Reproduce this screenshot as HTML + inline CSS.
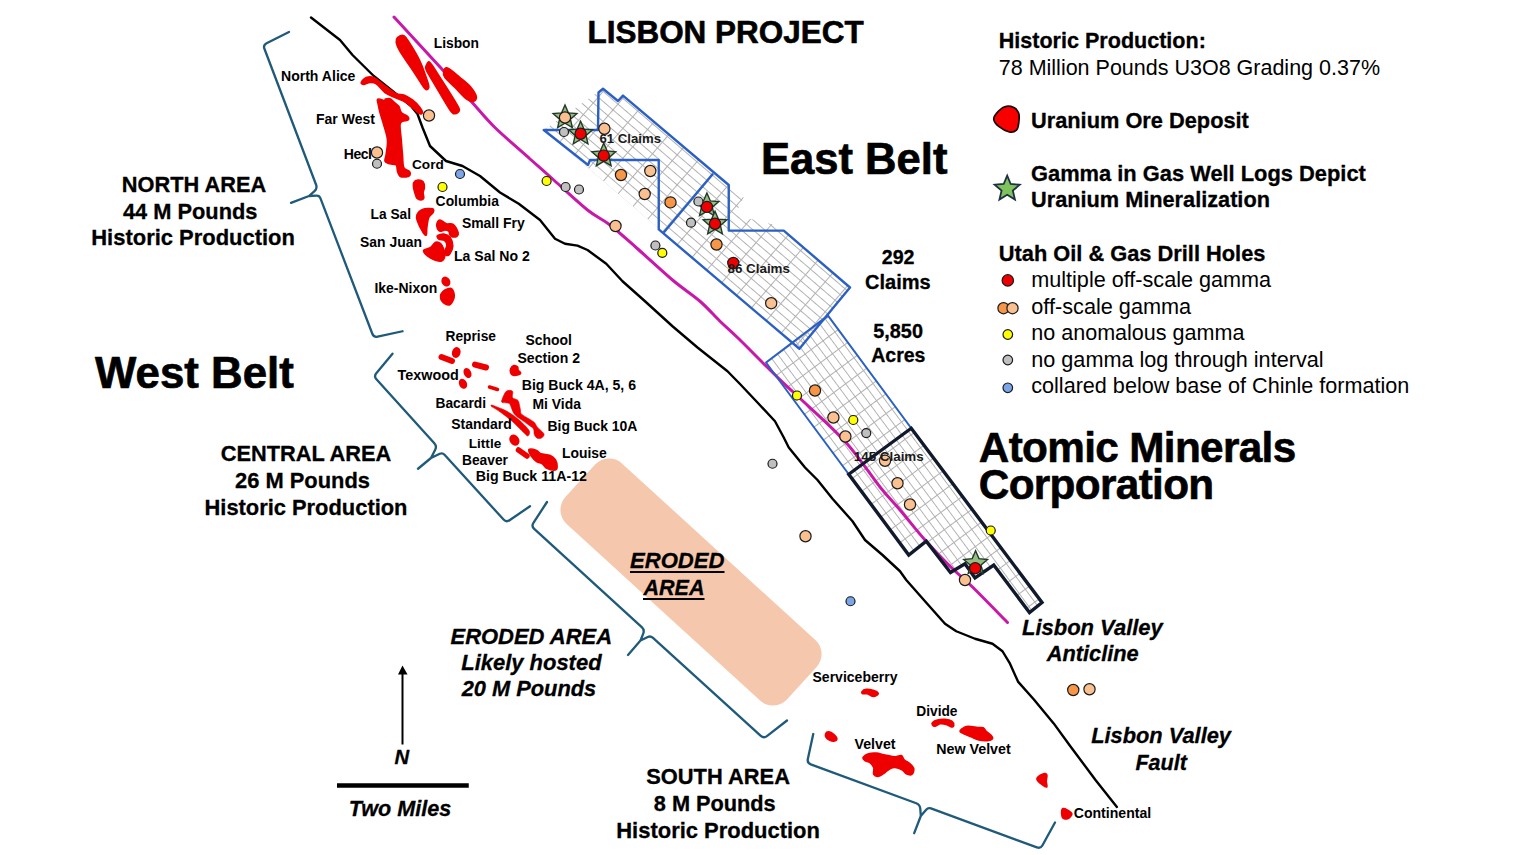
<!DOCTYPE html>
<html><head><meta charset="utf-8"><title>Lisbon Project</title>
<style>
html,body{margin:0;padding:0;background:#fff;width:1520px;height:855px;overflow:hidden}
svg{display:block}
text{font-family:"Liberation Sans",sans-serif}
</style></head><body>
<svg width="1520" height="855" viewBox="0 0 1520 855">
<rect width="1520" height="855" fill="#fff"/>
<defs>
<pattern id="g1" patternUnits="userSpaceOnUse" width="19.5" height="7.6" patternTransform="translate(543.75,130) rotate(40.6)">
<path d="M0,0.5H19.5M0.5,0V7.6" stroke="#b0b0b0" stroke-width="1" fill="none"/></pattern>
<pattern id="g2" patternUnits="userSpaceOnUse" width="16" height="7.4" patternTransform="translate(766,362.5) rotate(53.5)">
<path d="M0,0.5H16M0.5,0V7.4" stroke="#b0b0b0" stroke-width="1" fill="none"/></pattern>
</defs>
<rect x="541" y="541" width="300" height="82" rx="19" ry="19" fill="#f5c8ad" transform="rotate(42.4 691 582)"/>
<polygon points="543.75,130.00 598.00,92.00 603.00,88.75 618.00,101.00 623.00,95.60 728.75,185.00 743.75,197.50 736.00,212.50 750.00,218.75 775.00,225.00 783.75,230.60 850.00,287.50 799.40,348.75" fill="url(#g1)"/>
<polygon points="766.00,362.50 828.00,315.60 911.25,428.25 1042.00,602.50 1029.50,612.50 993.75,565.00 975.00,578.00 965.00,563.75 950.50,572.50 926.25,541.25 908.75,555.00 848.75,474.25" fill="url(#g2)"/>
<polyline points="311.00,17.50 340.00,40.00 352.50,55.00 373.75,76.00 397.50,95.00 411.00,106.00 417.50,114.00 422.50,127.50 430.00,146.00 446.00,161.00 462.50,166.00 480.00,176.00 500.00,192.50 518.75,203.75 540.00,220.00 555.00,238.75 565.00,243.75 577.50,245.60 587.50,250.00 606.25,263.75 622.50,281.25 645.00,301.25 672.50,326.25 697.50,347.50 727.50,371.25 740.00,384.00 757.00,402.00 775.00,421.25 783.75,437.50 788.75,447.50 805.00,467.50 817.50,480.00 832.50,498.75 852.50,521.25 865.00,540.00 882.50,555.00 900.00,571.25 906.25,580.00 925.00,601.25 945.00,623.75 956.25,631.25 975.00,638.75 992.50,643.75 1002.50,651.25 1010.00,663.70 1018.00,681.60 1033.90,699.50 1053.70,723.40 1069.60,745.20 1095.50,780.00 1116.90,806.90" fill="none" stroke="#000" stroke-width="2.4" stroke-linejoin="round" stroke-linecap="round"/>
<path d="M394.00,17.00 C401.67,25.33 427.33,53.17 440.00,67.00 C452.67,80.83 460.93,90.00 470.00,100.00 C479.07,110.00 484.44,117.21 494.40,127.00 C504.36,136.79 519.86,149.92 529.75,158.75 C539.64,167.58 544.12,171.46 553.75,180.00 C563.38,188.54 578.12,202.50 587.50,210.00 C596.88,217.50 601.67,218.54 610.00,225.00 C618.33,231.46 627.08,239.58 637.50,248.75 C647.92,257.92 662.08,271.25 672.50,280.00 C682.92,288.75 692.08,294.38 700.00,301.25 C707.92,308.12 713.54,315.00 720.00,321.25 C726.46,327.50 731.25,331.46 738.75,338.75 C746.25,346.04 756.88,356.98 765.00,365.00 C773.12,373.02 781.37,381.07 787.50,386.90 C793.63,392.73 792.05,390.73 801.80,400.00 C811.55,409.27 832.97,428.00 846.00,442.50 C859.03,457.00 871.00,475.75 880.00,487.00 C889.00,498.25 892.50,501.17 900.00,510.00 C907.50,518.83 916.67,530.62 925.00,540.00 C933.33,549.38 942.08,558.42 950.00,566.25 C957.92,574.08 962.92,577.62 972.50,587.00 C982.08,596.38 1001.67,616.58 1007.50,622.50 " fill="none" stroke="#c818aa" stroke-width="3" stroke-linejoin="round" stroke-linecap="round"/>
<path d="M289.00,32.00 L266.58,43.21 Q263.00,45.00 264.42,48.74 L316.08,184.76 Q317.50,188.50 314.50,191.15 L309.00,196.00 L291.00,202.80 L309.00,196.00 L316.40,195.72 Q319.40,195.60 320.47,198.40 L372.32,333.76 Q373.75,337.50 377.66,336.65 L402.50,331.25" fill="none" stroke="#1f5a7a" stroke-width="2.3" stroke-linejoin="round" stroke-linecap="round"/>
<path d="M392.50,353.75 L376.31,373.18 Q373.75,376.25 376.43,379.22 L434.32,443.28 Q437.00,446.25 435.18,449.81 L431.00,458.00 L418.00,468.75 L431.00,458.00 L439.79,453.79 Q442.50,452.50 444.52,454.72 L503.56,519.54 Q506.25,522.50 509.55,520.24 L530.00,506.25" fill="none" stroke="#1f5a7a" stroke-width="2.3" stroke-linejoin="round" stroke-linecap="round"/>
<path d="M547.00,502.00 L533.43,522.90 Q531.25,526.25 534.20,528.95 L641.75,627.20 Q644.70,629.90 643.23,633.62 L640.50,640.50 L628.00,655.00 L640.50,640.50 L647.80,637.00 Q650.50,635.70 652.72,637.72 L760.79,735.81 Q763.75,738.50 766.91,736.05 L787.00,720.50" fill="none" stroke="#1f5a7a" stroke-width="2.3" stroke-linejoin="round" stroke-linecap="round"/>
<path d="M813.25,734.00 L807.84,759.09 Q807.00,763.00 810.75,764.38 L916.25,803.22 Q920.00,804.60 920.28,808.59 L920.80,816.00 L914.20,833.20 L920.80,816.00 L926.16,809.69 Q928.10,807.40 930.92,808.43 L1036.85,847.37 Q1040.60,848.75 1042.52,845.24 L1055.00,822.50" fill="none" stroke="#1f5a7a" stroke-width="2.3" stroke-linejoin="round" stroke-linecap="round"/>
<polygon points="543.75,130.00 598.00,130.00 598.50,92.50 603.00,88.75 618.00,101.00 623.00,95.60 728.75,185.00 728.75,230.60 783.75,230.60 850.00,287.50 799.40,348.75 658.75,229.40 658.75,160.00 590.00,160.00 588.00,165.00" fill="none" stroke="#2a60c4" stroke-width="2.4" stroke-linejoin="round"/>
<line x1="663.75" y1="232.5" x2="713" y2="173.75" stroke="#2a60c4" stroke-width="2.4"/>
<polygon points="766.00,362.50 828.00,315.60 911.25,428.25 848.75,474.25" fill="none" stroke="#2a60c4" stroke-width="2" stroke-linejoin="round"/>
<polygon points="848.75,474.25 911.25,428.25 1042.00,602.50 1029.50,612.50 993.75,565.00 975.00,578.00 965.00,563.75 950.50,572.50 926.25,541.25 908.75,555.00" fill="none" stroke="#111a2c" stroke-width="3.4" stroke-linejoin="miter"/>
<path d="M397.50,37.50 C398.75,36.35 401.67,34.58 403.75,35.62 C405.83,36.67 407.29,39.48 410.00,43.75 C412.71,48.02 417.08,55.00 420.00,61.25 C422.92,67.50 426.04,76.88 427.50,81.25 C428.96,85.62 429.17,86.25 428.75,87.50 C428.33,88.75 427.29,91.04 425.00,88.75 C422.71,86.46 419.17,80.00 415.00,73.75 C410.83,67.50 403.12,56.46 400.00,51.25 C396.88,46.04 396.67,44.79 396.25,42.50 C395.83,40.21 396.25,38.65 397.50,37.50 Z" fill="#ee0000" stroke="#ee0000" stroke-width="1.6" stroke-linejoin="round"/>
<path d="M426.25,65.62 C426.88,64.38 427.71,60.52 430.00,62.50 C432.29,64.48 435.83,71.04 440.00,77.50 C444.17,83.96 451.77,95.83 455.00,101.25 C458.23,106.67 459.38,107.92 459.38,110.00 C459.38,112.08 456.56,113.75 455.00,113.75 C453.44,113.75 453.33,114.79 450.00,110.00 C446.67,105.21 438.96,91.67 435.00,85.00 C431.04,78.33 427.71,73.23 426.25,70.00 C424.79,66.77 425.62,66.88 426.25,65.62 Z" fill="#ee0000" stroke="#ee0000" stroke-width="1.6" stroke-linejoin="round"/>
<path d="M443.75,71.25 C444.17,69.69 444.79,67.08 447.50,68.12 C450.21,69.17 456.25,74.48 460.00,77.50 C463.75,80.52 467.29,83.12 470.00,86.25 C472.71,89.38 475.62,93.75 476.25,96.25 C476.88,98.75 475.42,100.83 473.75,101.25 C472.08,101.67 469.38,101.04 466.25,98.75 C463.12,96.46 458.54,91.04 455.00,87.50 C451.46,83.96 446.88,80.21 445.00,77.50 C443.12,74.79 443.33,72.81 443.75,71.25 Z" fill="#ee0000" stroke="#ee0000" stroke-width="1.6" stroke-linejoin="round"/>
<path d="M361.25,82.50 C361.67,81.35 364.17,78.33 366.25,77.50 C368.33,76.67 370.83,76.25 373.75,77.50 C376.67,78.75 380.00,82.29 383.75,85.00 C387.50,87.71 392.92,92.08 396.25,93.75 C399.58,95.42 401.04,93.96 403.75,95.00 C406.46,96.04 409.79,97.92 412.50,100.00 C415.21,102.08 418.33,105.42 420.00,107.50 C421.67,109.58 422.50,111.46 422.50,112.50 C422.50,113.54 421.25,114.17 420.00,113.75 C418.75,113.33 417.29,111.88 415.00,110.00 C412.71,108.12 409.58,104.58 406.25,102.50 C402.92,100.42 398.54,99.17 395.00,97.50 C391.46,95.83 388.12,94.79 385.00,92.50 C381.88,90.21 378.75,85.42 376.25,83.75 C373.75,82.08 372.08,82.40 370.00,82.50 C367.92,82.60 365.21,84.38 363.75,84.38 C362.29,84.38 360.83,83.65 361.25,82.50 Z" fill="#ee0000" stroke="#ee0000" stroke-width="1.6" stroke-linejoin="round"/>
<path d="M377.50,99.38 C378.23,98.75 381.04,99.48 382.50,100.00 C383.96,100.52 385.83,102.60 386.25,102.50 C386.67,102.40 384.38,100.00 385.00,99.38 C385.62,98.75 388.54,98.33 390.00,98.75 C391.46,99.17 392.29,100.62 393.75,101.88 C395.21,103.12 397.50,104.48 398.75,106.25 C400.00,108.02 399.79,110.83 401.25,112.50 C402.71,114.17 406.35,115.00 407.50,116.25 C408.65,117.50 408.96,119.17 408.12,120.00 C407.29,120.83 403.85,120.42 402.50,121.25 C401.15,122.08 400.21,121.88 400.00,125.00 C399.79,128.12 400.83,135.00 401.25,140.00 C401.67,145.00 402.08,150.42 402.50,155.00 C402.92,159.58 402.60,164.79 403.75,167.50 C404.90,170.21 408.33,170.00 409.38,171.25 C410.42,172.50 410.52,174.06 410.00,175.00 C409.48,175.94 407.92,176.67 406.25,176.88 C404.58,177.08 401.46,177.19 400.00,176.25 C398.54,175.31 398.12,173.12 397.50,171.25 C396.88,169.38 397.50,166.25 396.25,165.00 C395.00,163.75 391.88,164.38 390.00,163.75 C388.12,163.12 385.62,162.92 385.00,161.25 C384.38,159.58 385.83,157.29 386.25,153.75 C386.67,150.21 387.92,144.79 387.50,140.00 C387.08,135.21 385.00,129.58 383.75,125.00 C382.50,120.42 380.94,116.04 380.00,112.50 C379.06,108.96 378.54,105.94 378.12,103.75 C377.71,101.56 376.77,100.00 377.50,99.38 Z" fill="#ee0000" stroke="#ee0000" stroke-width="1.6" stroke-linejoin="round"/>
<path d="M413.75,182.50 C414.48,181.04 416.56,180.10 418.12,180.00 C419.69,179.90 422.08,180.62 423.12,181.88 C424.17,183.12 424.38,185.73 424.38,187.50 C424.38,189.27 423.23,190.73 423.12,192.50 C423.02,194.27 424.17,196.88 423.75,198.12 C423.33,199.38 421.77,200.00 420.62,200.00 C419.48,200.00 417.71,198.96 416.88,198.12 C416.04,197.29 416.15,196.56 415.62,195.00 C415.10,193.44 414.06,190.83 413.75,188.75 C413.44,186.67 413.02,183.96 413.75,182.50 Z" fill="#ee0000" stroke="#ee0000" stroke-width="1.6" stroke-linejoin="round"/>
<path d="M416.88,215.00 C417.71,213.02 419.90,210.42 422.50,209.38 C425.10,208.33 430.73,208.23 432.50,208.75 C434.27,209.27 433.75,211.04 433.12,212.50 C432.50,213.96 429.79,215.00 428.75,217.50 C427.71,220.00 427.29,224.58 426.88,227.50 C426.46,230.42 426.88,234.17 426.25,235.00 C425.62,235.83 424.58,234.79 423.12,232.50 C421.67,230.21 418.54,224.17 417.50,221.25 C416.46,218.33 416.04,216.98 416.88,215.00 Z" fill="#ee0000" stroke="#ee0000" stroke-width="1.6" stroke-linejoin="round"/>
<path d="M436.88,223.75 C437.29,222.29 438.44,220.00 440.00,220.00 C441.56,220.00 444.06,223.02 446.25,223.75 C448.44,224.48 451.15,222.92 453.12,224.38 C455.10,225.83 457.50,230.52 458.12,232.50 C458.75,234.48 457.81,235.52 456.88,236.25 C455.94,236.98 453.65,237.08 452.50,236.88 C451.35,236.67 450.62,235.94 450.00,235.00 C449.38,234.06 449.58,232.08 448.75,231.25 C447.92,230.42 446.46,230.00 445.00,230.00 C443.54,230.00 441.25,231.46 440.00,231.25 C438.75,231.04 438.02,230.00 437.50,228.75 C436.98,227.50 436.46,225.21 436.88,223.75 Z" fill="#ee0000" stroke="#ee0000" stroke-width="1.6" stroke-linejoin="round"/>
<path d="M437.50,235.62 C438.33,234.79 441.67,233.73 443.75,234.00 C445.83,234.27 448.50,235.21 450.00,237.25 C451.50,239.29 452.79,243.46 452.75,246.25 C452.71,249.04 450.83,252.50 449.75,254.00 C448.67,255.50 447.08,255.67 446.25,255.25 C445.42,254.83 444.65,253.10 444.75,251.50 C444.85,249.90 446.88,247.44 446.88,245.62 C446.88,243.81 446.10,241.73 444.75,240.62 C443.40,239.52 439.96,239.83 438.75,239.00 C437.54,238.17 436.67,236.46 437.50,235.62 Z" fill="#ee0000" stroke="#ee0000" stroke-width="1.6" stroke-linejoin="round"/>
<path d="M435.62,242.25 C437.35,241.54 439.31,242.42 440.62,243.50 C441.94,244.58 442.81,246.62 443.50,248.75 C444.19,250.88 445.08,254.21 444.75,256.25 C444.42,258.29 443.08,260.33 441.50,261.00 C439.92,261.67 437.12,260.79 435.25,260.25 C433.38,259.71 431.92,258.79 430.25,257.75 C428.58,256.71 426.33,255.25 425.25,254.00 C424.17,252.75 422.92,251.29 423.75,250.25 C424.58,249.21 428.27,249.08 430.25,247.75 C432.23,246.42 433.90,242.96 435.62,242.25 Z" fill="#ee0000" stroke="#ee0000" stroke-width="1.6" stroke-linejoin="round"/>
<path d="M441.25,293.75 C441.98,292.71 443.33,290.89 445.00,290.00 C446.67,289.11 449.79,288.02 451.25,288.44 C452.71,288.85 453.28,290.99 453.75,292.50 C454.22,294.01 454.38,295.83 454.06,297.50 C453.75,299.17 452.66,301.25 451.88,302.50 C451.09,303.75 450.52,304.79 449.38,305.00 C448.23,305.21 446.35,304.58 445.00,303.75 C443.65,302.92 441.98,301.25 441.25,300.00 C440.52,298.75 440.62,297.29 440.62,296.25 C440.62,295.21 440.52,294.79 441.25,293.75 Z" fill="#ee0000" stroke="#ee0000" stroke-width="1.6" stroke-linejoin="round"/>
<path d="M528.92,449.53 C529.78,448.53 534.62,449.67 536.61,450.38 C538.60,451.10 538.60,452.95 540.88,453.80 C543.16,454.65 547.85,454.51 550.27,455.51 C552.69,456.50 554.26,457.93 555.40,459.78 C556.54,461.63 557.11,464.90 557.11,466.61 C557.11,468.32 557.11,469.74 555.40,470.03 C553.69,470.31 548.99,469.31 546.86,468.32 C544.72,467.32 544.30,465.19 542.59,464.05 C540.88,462.91 538.46,462.77 536.61,461.49 C534.76,460.20 532.77,458.35 531.49,456.36 C530.20,454.37 528.07,450.53 528.92,449.53 Z" fill="#ee0000" stroke="#ee0000" stroke-width="1.6" stroke-linejoin="round"/>
<path d="M510.62,368.75 C511.15,367.60 512.60,365.94 513.75,365.62 C514.90,365.31 516.77,366.15 517.50,366.88 C518.23,367.60 517.60,368.96 518.12,370.00 C518.65,371.04 520.73,372.29 520.62,373.12 C520.52,373.96 518.85,374.69 517.50,375.00 C516.15,375.31 513.65,375.42 512.50,375.00 C511.35,374.58 510.94,373.54 510.62,372.50 C510.31,371.46 510.10,369.90 510.62,368.75 Z" fill="#ee0000" stroke="#ee0000" stroke-width="1.6" stroke-linejoin="round"/>
<path d="M861.88,691.88 C862.40,691.15 864.27,689.58 866.25,689.38 C868.23,689.17 871.77,690.00 873.75,690.62 C875.73,691.25 877.71,692.29 878.12,693.12 C878.54,693.96 877.19,695.10 876.25,695.62 C875.31,696.15 873.96,696.56 872.50,696.25 C871.04,695.94 869.06,694.17 867.50,693.75 C865.94,693.33 864.06,694.06 863.12,693.75 C862.19,693.44 861.35,692.60 861.88,691.88 Z" fill="#ee0000" stroke="#ee0000" stroke-width="1.6" stroke-linejoin="round"/>
<path d="M932.50,722.50 C933.33,721.67 935.42,720.52 937.50,720.00 C939.58,719.48 942.60,719.17 945.00,719.38 C947.40,719.58 950.42,720.21 951.88,721.25 C953.33,722.29 953.85,724.69 953.75,725.62 C953.65,726.56 952.50,727.08 951.25,726.88 C950.00,726.67 948.12,724.90 946.25,724.38 C944.38,723.85 941.88,723.44 940.00,723.75 C938.12,724.06 936.25,726.04 935.00,726.25 C933.75,726.46 932.92,725.62 932.50,725.00 C932.08,724.38 931.67,723.33 932.50,722.50 Z" fill="#ee0000" stroke="#ee0000" stroke-width="1.6" stroke-linejoin="round"/>
<path d="M960.00,731.25 C960.21,730.10 963.12,727.67 965.00,726.88 C966.88,726.08 969.17,726.40 971.25,726.50 C973.33,726.60 975.52,727.29 977.50,727.50 C979.48,727.71 981.67,727.12 983.12,727.75 C984.58,728.38 984.90,729.94 986.25,731.25 C987.60,732.56 990.21,734.38 991.25,735.62 C992.29,736.88 993.12,737.92 992.50,738.75 C991.88,739.58 989.79,740.42 987.50,740.62 C985.21,740.83 981.46,740.62 978.75,740.00 C976.04,739.38 973.75,737.92 971.25,736.88 C968.75,735.83 965.62,734.69 963.75,733.75 C961.88,732.81 959.79,732.40 960.00,731.25 Z" fill="#ee0000" stroke="#ee0000" stroke-width="1.6" stroke-linejoin="round"/>
<path d="M825.62,733.75 C826.04,732.81 827.40,731.77 828.75,731.88 C830.10,731.98 832.40,733.23 833.75,734.38 C835.10,735.52 836.88,737.60 836.88,738.75 C836.88,739.90 835.00,741.04 833.75,741.25 C832.50,741.46 830.62,740.62 829.38,740.00 C828.12,739.38 826.88,738.54 826.25,737.50 C825.62,736.46 825.21,734.69 825.62,733.75 Z" fill="#ee0000" stroke="#ee0000" stroke-width="1.6" stroke-linejoin="round"/>
<path d="M863.12,757.50 C863.75,756.35 866.56,754.48 868.75,753.75 C870.94,753.02 873.54,752.92 876.25,753.12 C878.96,753.33 881.88,754.38 885.00,755.00 C888.12,755.62 892.29,756.77 895.00,756.88 C897.71,756.98 899.69,755.10 901.25,755.62 C902.81,756.15 902.92,758.65 904.38,760.00 C905.83,761.35 908.44,762.29 910.00,763.75 C911.56,765.21 913.44,766.98 913.75,768.75 C914.06,770.52 913.12,773.54 911.88,774.38 C910.62,775.21 907.81,774.48 906.25,773.75 C904.69,773.02 904.38,771.04 902.50,770.00 C900.62,768.96 897.08,767.71 895.00,767.50 C892.92,767.29 891.67,767.92 890.00,768.75 C888.33,769.58 886.88,771.25 885.00,772.50 C883.12,773.75 880.62,775.94 878.75,776.25 C876.88,776.56 874.58,775.83 873.75,774.38 C872.92,772.92 874.38,769.48 873.75,767.50 C873.12,765.52 871.46,763.65 870.00,762.50 C868.54,761.35 866.15,761.46 865.00,760.62 C863.85,759.79 862.50,758.65 863.12,757.50 Z" fill="#ee0000" stroke="#ee0000" stroke-width="1.6" stroke-linejoin="round"/>
<path d="M1036.88,778.75 C1037.08,776.88 1042.08,774.38 1043.75,773.75 C1045.42,773.12 1046.46,773.75 1046.88,775.00 C1047.29,776.25 1046.25,779.27 1046.25,781.25 C1046.25,783.23 1047.50,786.25 1046.88,786.88 C1046.25,787.50 1044.17,786.35 1042.50,785.00 C1040.83,783.65 1036.67,780.62 1036.88,778.75 Z" fill="#ee0000" stroke="#ee0000" stroke-width="1.6" stroke-linejoin="round"/>
<path d="M1061.88,810.00 C1062.29,808.54 1063.33,808.12 1065.00,808.75 C1066.67,809.38 1071.46,812.08 1071.88,813.75 C1072.29,815.42 1069.06,818.12 1067.50,818.75 C1065.94,819.38 1063.44,818.96 1062.50,817.50 C1061.56,816.04 1061.46,811.46 1061.88,810.00 Z" fill="#ee0000" stroke="#ee0000" stroke-width="1.6" stroke-linejoin="round"/>
<ellipse cx="445.9" cy="281.6" rx="4.3" ry="5.2" transform="rotate(-30 445.9 281.6)" fill="#ee0000"/>
<ellipse cx="456.25" cy="352.5" rx="4.3" ry="5.5" transform="rotate(15 456.25 352.5)" fill="#ee0000"/>
<line x1="441.5" y1="357" x2="452" y2="361" stroke="#ee0000" stroke-width="6" stroke-linecap="round"/>
<line x1="475" y1="364.6" x2="486" y2="367.5" stroke="#ee0000" stroke-width="6" stroke-linecap="round"/>
<ellipse cx="467.5" cy="373" rx="3.7" ry="5.3" transform="rotate(-25 467.5 373)" fill="#ee0000"/>
<ellipse cx="463" cy="383.75" rx="3.9000000000000004" ry="5.3" transform="rotate(-25 463 383.75)" fill="#ee0000"/>
<line x1="489.5" y1="387" x2="497.5" y2="389.5" stroke="#ee0000" stroke-width="3.5" stroke-linecap="round"/>
<ellipse cx="514.4" cy="440.1" rx="4.7" ry="5.9" transform="rotate(-35 514.4 440.1)" fill="#ee0000"/>
<line x1="518.5" y1="450" x2="527" y2="456" stroke="#ee0000" stroke-width="5.5" stroke-linecap="round"/>
<path d="M491.30,405.10 C491.88,405.05 492.78,405.37 495.00,406.20 C497.22,407.03 501.57,408.58 504.60,410.10 C507.63,411.62 510.32,413.23 513.20,415.30 C516.08,417.37 519.33,420.10 521.90,422.50 C524.47,424.90 527.33,427.85 528.60,429.70 C529.87,431.55 529.67,432.55 529.50,433.60 C529.33,434.65 528.40,436.00 527.60,436.00 C526.80,436.00 526.30,435.12 524.70,433.60 C523.10,432.08 520.32,429.15 518.00,426.90 C515.68,424.65 513.43,422.35 510.80,420.10 C508.17,417.85 504.83,415.32 502.20,413.40 C499.57,411.48 496.78,409.75 495.00,408.60 C493.22,407.45 492.12,407.08 491.50,406.50 C490.88,405.92 490.72,405.15 491.30,405.10 Z" fill="#ee0000" stroke="#ee0000" stroke-width="0.6" stroke-linejoin="round"/>
<path d="M501.90,400.00 C502.57,398.14 504.48,392.71 506.25,391.25 C508.02,389.79 511.46,390.21 512.50,391.25 C513.54,392.29 511.67,396.04 512.50,397.50 C513.33,398.96 516.42,399.10 517.50,400.00 C518.58,400.90 518.52,401.30 519.00,402.90 C519.48,404.50 519.92,407.68 520.40,409.60 C520.88,411.52 519.73,412.40 521.90,414.40 C524.07,416.40 530.85,419.52 533.40,421.60 C535.95,423.68 535.60,425.07 537.20,426.90 C538.80,428.73 541.88,431.17 543.00,432.60 C544.12,434.03 544.30,434.53 543.90,435.50 C543.50,436.47 541.80,438.00 540.60,438.40 C539.40,438.80 537.75,438.55 536.70,437.90 C535.65,437.25 534.85,436.02 534.30,434.50 C533.75,432.98 534.35,430.40 533.40,428.80 C532.45,427.20 530.52,426.35 528.60,424.90 C526.68,423.45 524.30,421.93 521.90,420.10 C519.50,418.27 516.20,416.53 514.20,413.90 C512.20,411.27 511.10,406.13 509.90,404.30 C508.70,402.47 508.28,403.22 507.00,402.90 C505.72,402.58 503.05,402.88 502.20,402.40 C501.35,401.92 501.22,401.86 501.90,400.00 Z" fill="#ee0000" stroke="#ee0000" stroke-width="0.6" stroke-linejoin="round"/>
<polygon points="565.00,105.00 568.38,112.85 576.89,113.64 570.47,119.28 572.35,127.61 565.00,123.25 557.65,127.61 559.53,119.28 553.11,113.64 561.62,112.85" fill="#96bd82" stroke="#22382a" stroke-width="1.4" stroke-linejoin="miter"/>
<polygon points="580.60,121.25 583.98,129.10 592.49,129.89 586.07,135.53 587.95,143.86 580.60,139.50 573.25,143.86 575.13,135.53 568.71,129.89 577.22,129.10" fill="#96bd82" stroke="#22382a" stroke-width="1.4" stroke-linejoin="miter"/>
<polygon points="603.75,143.10 607.13,150.95 615.64,151.74 609.22,157.38 611.10,165.71 603.75,161.35 596.40,165.71 598.28,157.38 591.86,151.74 600.37,150.95" fill="#96bd82" stroke="#22382a" stroke-width="1.4" stroke-linejoin="miter"/>
<polygon points="706.90,193.00 710.28,200.85 718.79,201.64 712.37,207.28 714.25,215.61 706.90,211.25 699.55,215.61 701.43,207.28 695.01,201.64 703.52,200.85" fill="#96bd82" stroke="#22382a" stroke-width="1.4" stroke-linejoin="miter"/>
<polygon points="715.00,211.25 718.38,219.10 726.89,219.89 720.47,225.53 722.35,233.86 715.00,229.50 707.65,233.86 709.53,225.53 703.11,219.89 711.62,219.10" fill="#96bd82" stroke="#22382a" stroke-width="1.4" stroke-linejoin="miter"/>
<polygon points="975.60,550.80 978.98,558.65 987.49,559.44 981.07,565.08 982.95,573.41 975.60,569.05 968.25,573.41 970.13,565.08 963.71,559.44 972.22,558.65" fill="#96bd82" stroke="#22382a" stroke-width="1.4" stroke-linejoin="miter"/>
<circle cx="429" cy="115.5" r="5.6" fill="#fac090" stroke="#1a1a1a" stroke-width="1.2"/>
<circle cx="377" cy="152.5" r="5.6" fill="#fac090" stroke="#1a1a1a" stroke-width="1.2"/>
<circle cx="565" cy="117.5" r="5.6" fill="#fac090" stroke="#1a1a1a" stroke-width="1.2"/>
<circle cx="604.4" cy="128.75" r="5.6" fill="#fac090" stroke="#1a1a1a" stroke-width="1.2"/>
<circle cx="650.3" cy="171" r="5.6" fill="#fac090" stroke="#1a1a1a" stroke-width="1.2"/>
<circle cx="644.7" cy="194" r="5.6" fill="#fac090" stroke="#1a1a1a" stroke-width="1.2"/>
<circle cx="615.5" cy="226" r="5.6" fill="#fac090" stroke="#1a1a1a" stroke-width="1.2"/>
<circle cx="771.2" cy="303.2" r="5.6" fill="#fac090" stroke="#1a1a1a" stroke-width="1.2"/>
<circle cx="833.4" cy="417.5" r="5.6" fill="#fac090" stroke="#1a1a1a" stroke-width="1.2"/>
<circle cx="845.4" cy="436.5" r="5.6" fill="#fac090" stroke="#1a1a1a" stroke-width="1.2"/>
<circle cx="885" cy="460.75" r="5.6" fill="#fac090" stroke="#1a1a1a" stroke-width="1.2"/>
<circle cx="897.5" cy="483.25" r="5.6" fill="#fac090" stroke="#1a1a1a" stroke-width="1.2"/>
<circle cx="910" cy="504.5" r="5.6" fill="#fac090" stroke="#1a1a1a" stroke-width="1.2"/>
<circle cx="805.5" cy="536.25" r="5.6" fill="#fac090" stroke="#1a1a1a" stroke-width="1.2"/>
<circle cx="965" cy="580" r="5.6" fill="#fac090" stroke="#1a1a1a" stroke-width="1.2"/>
<circle cx="1089.5" cy="689.25" r="5.6" fill="#fac090" stroke="#1a1a1a" stroke-width="1.2"/>
<circle cx="621" cy="175" r="5.6" fill="#f79646" stroke="#1a1a1a" stroke-width="1.2"/>
<circle cx="670.5" cy="202.4" r="5.6" fill="#f79646" stroke="#1a1a1a" stroke-width="1.2"/>
<circle cx="716.5" cy="244.5" r="5.6" fill="#f79646" stroke="#1a1a1a" stroke-width="1.2"/>
<circle cx="815" cy="390.5" r="5.6" fill="#f79646" stroke="#1a1a1a" stroke-width="1.2"/>
<circle cx="1073.25" cy="690" r="5.6" fill="#f79646" stroke="#1a1a1a" stroke-width="1.2"/>
<circle cx="580.6" cy="133.75" r="5.6" fill="#ee0000" stroke="#1a1a1a" stroke-width="1.2"/>
<circle cx="603.75" cy="155.6" r="5.6" fill="#ee0000" stroke="#1a1a1a" stroke-width="1.2"/>
<circle cx="706.9" cy="206.9" r="5.6" fill="#ee0000" stroke="#1a1a1a" stroke-width="1.2"/>
<circle cx="715" cy="223.75" r="5.6" fill="#ee0000" stroke="#1a1a1a" stroke-width="1.2"/>
<circle cx="733.3" cy="263" r="5.6" fill="#ee0000" stroke="#1a1a1a" stroke-width="1.2"/>
<circle cx="975.2" cy="568.2" r="5.6" fill="#ee0000" stroke="#1a1a1a" stroke-width="1.2"/>
<circle cx="442.5" cy="187" r="4.5" fill="#ffff00" stroke="#1a1a1a" stroke-width="1.2"/>
<circle cx="546.6" cy="181" r="4.5" fill="#ffff00" stroke="#1a1a1a" stroke-width="1.2"/>
<circle cx="662.3" cy="252.9" r="4.5" fill="#ffff00" stroke="#1a1a1a" stroke-width="1.2"/>
<circle cx="797" cy="395.5" r="4.5" fill="#ffff00" stroke="#1a1a1a" stroke-width="1.2"/>
<circle cx="853.3" cy="420" r="4.5" fill="#ffff00" stroke="#1a1a1a" stroke-width="1.2"/>
<circle cx="990.75" cy="530.5" r="4.5" fill="#ffff00" stroke="#1a1a1a" stroke-width="1.2"/>
<circle cx="377" cy="163.75" r="4.5" fill="#bfbfbf" stroke="#1a1a1a" stroke-width="1.2"/>
<circle cx="564" cy="132" r="4.5" fill="#bfbfbf" stroke="#1a1a1a" stroke-width="1.2"/>
<circle cx="565.6" cy="187" r="4.5" fill="#bfbfbf" stroke="#1a1a1a" stroke-width="1.2"/>
<circle cx="579" cy="189.5" r="4.5" fill="#bfbfbf" stroke="#1a1a1a" stroke-width="1.2"/>
<circle cx="698.4" cy="201.5" r="4.5" fill="#bfbfbf" stroke="#1a1a1a" stroke-width="1.2"/>
<circle cx="691" cy="222.7" r="4.5" fill="#bfbfbf" stroke="#1a1a1a" stroke-width="1.2"/>
<circle cx="655.4" cy="245.5" r="4.5" fill="#bfbfbf" stroke="#1a1a1a" stroke-width="1.2"/>
<circle cx="866.25" cy="433.1" r="4.5" fill="#bfbfbf" stroke="#1a1a1a" stroke-width="1.2"/>
<circle cx="772.5" cy="463.75" r="4.5" fill="#bfbfbf" stroke="#1a1a1a" stroke-width="1.2"/>
<circle cx="460" cy="174" r="4.5" fill="#7aa5e8" stroke="#1a1a1a" stroke-width="1.2"/>
<circle cx="850.5" cy="601.25" r="4.5" fill="#7aa5e8" stroke="#1a1a1a" stroke-width="1.2"/>
<path d="M993.80,119.60 C993.43,117.30 995.05,115.05 996.90,112.90 C998.75,110.75 1002.08,107.58 1004.90,106.70 C1007.72,105.82 1011.50,106.50 1013.80,107.60 C1016.10,108.70 1017.88,110.72 1018.70,113.30 C1019.52,115.88 1019.08,120.28 1018.70,123.10 C1018.32,125.92 1017.97,128.72 1016.40,130.20 C1014.83,131.68 1012.18,132.58 1009.30,132.00 C1006.42,131.42 1001.68,128.77 999.10,126.70 C996.52,124.63 994.17,121.90 993.80,119.60 Z" fill="#f80000" stroke="#1a0000" stroke-width="1.7"/>
<polygon points="1007.20,175.60 1010.69,183.99 1019.75,184.72 1012.85,190.64 1014.96,199.48 1007.20,194.74 999.44,199.48 1001.55,190.64 994.65,184.72 1003.71,183.99" fill="#7fc25e" stroke="#1e3140" stroke-width="1.8" stroke-linejoin="miter"/>
<circle cx="1007.8" cy="280.4" r="5.7" fill="#ee0000" stroke="#1a1a1a" stroke-width="1.2"/>
<circle cx="1003.5" cy="308.2" r="5.6" fill="#f79646" stroke="#1a1a1a" stroke-width="1.2"/>
<circle cx="1012.5" cy="308.2" r="5.6" fill="#fac090" stroke="#1a1a1a" stroke-width="1.2"/>
<circle cx="1007.8" cy="334.5" r="4.8" fill="#ffff00" stroke="#1a1a1a" stroke-width="1.2"/>
<circle cx="1007.8" cy="360" r="4.8" fill="#bfbfbf" stroke="#1a1a1a" stroke-width="1.2"/>
<circle cx="1007.8" cy="387.8" r="4.8" fill="#7aa5e8" stroke="#1a1a1a" stroke-width="1.2"/>
<line x1="402.5" y1="673" x2="402.5" y2="744.5" stroke="#000" stroke-width="2"/>
<polygon points="402.5,665.5 398,674.5 407.5,674.5" fill="#000"/>
<rect x="337" y="783.25" width="131.75" height="4.5" fill="#000"/>
<text x="587.50" y="43.00" font-size="31.46" font-weight="bold" font-style="normal" fill="#000" stroke="#000" stroke-width="0.6" stroke-linejoin="round" >LISBON PROJECT</text>
<text x="998.75" y="47.50" font-size="21.56" font-weight="bold" font-style="normal" fill="#000" stroke="#000" stroke-width="0.3" stroke-linejoin="round" >Historic Production:</text>
<text x="998.75" y="74.50" font-size="21.50" font-weight="normal" font-style="normal" fill="#000" >78 Million Pounds U3O8 Grading 0.37%</text>
<text x="1031.00" y="127.50" font-size="21.79" font-weight="bold" font-style="normal" fill="#000" stroke="#000" stroke-width="0.3" stroke-linejoin="round" >Uranium Ore Deposit</text>
<text x="1031.00" y="181.00" font-size="21.87" font-weight="bold" font-style="normal" fill="#000" stroke="#000" stroke-width="0.3" stroke-linejoin="round" >Gamma in Gas Well Logs Depict</text>
<text x="1031.00" y="207.00" font-size="21.72" font-weight="bold" font-style="normal" fill="#000" stroke="#000" stroke-width="0.3" stroke-linejoin="round" >Uranium Mineralization</text>
<text x="998.75" y="260.50" font-size="21.82" font-weight="bold" font-style="normal" fill="#000" stroke="#000" stroke-width="0.3" stroke-linejoin="round" >Utah Oil &amp; Gas Drill Holes</text>
<text x="1031.25" y="286.50" font-size="21.62" font-weight="normal" font-style="normal" fill="#000" >multiple off-scale gamma</text>
<text x="1031.25" y="313.50" font-size="21.69" font-weight="normal" font-style="normal" fill="#000" >off-scale gamma</text>
<text x="1031.25" y="340.20" font-size="21.55" font-weight="normal" font-style="normal" fill="#000" >no anomalous gamma</text>
<text x="1031.25" y="366.80" font-size="21.65" font-weight="normal" font-style="normal" fill="#000" >no gamma log through interval</text>
<text x="1031.25" y="393.40" font-size="21.60" font-weight="normal" font-style="normal" fill="#000" >collared below base of Chinle formation</text>
<text x="761.00" y="173.75" font-size="43.57" font-weight="bold" font-style="normal" fill="#000" stroke="#000" stroke-width="0.7" stroke-linejoin="round" >East Belt</text>
<text x="881.75" y="263.50" font-size="19.64" font-weight="bold" font-style="normal" fill="#000" stroke="#000" stroke-width="0.3" stroke-linejoin="round" >292</text>
<text x="865.00" y="288.50" font-size="20.05" font-weight="bold" font-style="normal" fill="#000" stroke="#000" stroke-width="0.3" stroke-linejoin="round" >Claims</text>
<text x="873.25" y="337.75" font-size="19.88" font-weight="bold" font-style="normal" fill="#000" stroke="#000" stroke-width="0.3" stroke-linejoin="round" >5,850</text>
<text x="871.25" y="362.25" font-size="19.51" font-weight="bold" font-style="normal" fill="#000" stroke="#000" stroke-width="0.3" stroke-linejoin="round" >Acres</text>
<text x="978.75" y="461.50" font-size="42.30" font-weight="bold" font-style="normal" fill="#000" letter-spacing="-0.66" stroke="#000" stroke-width="0.6" stroke-linejoin="round" >Atomic Minerals</text>
<text x="978.75" y="499.00" font-size="42.30" font-weight="bold" font-style="normal" fill="#000" letter-spacing="-0.66" stroke="#000" stroke-width="0.6" stroke-linejoin="round" >Corporation</text>
<text x="1022.00" y="635.00" font-size="21.97" font-weight="bold" font-style="italic" fill="#000" stroke="#000" stroke-width="0.3" stroke-linejoin="round" >Lisbon Valley</text>
<text x="1046.74" y="661.25" font-size="21.79" font-weight="bold" font-style="italic" fill="#000" stroke="#000" stroke-width="0.3" stroke-linejoin="round" >Anticline</text>
<text x="1091.25" y="743.00" font-size="21.81" font-weight="bold" font-style="italic" fill="#000" stroke="#000" stroke-width="0.3" stroke-linejoin="round" >Lisbon Valley</text>
<text x="1135.50" y="770.00" font-size="21.47" font-weight="bold" font-style="italic" fill="#000" stroke="#000" stroke-width="0.3" stroke-linejoin="round" >Fault</text>
<text x="121.75" y="192.20" font-size="21.79" font-weight="bold" font-style="normal" fill="#000" stroke="#000" stroke-width="0.3" stroke-linejoin="round" >NORTH AREA</text>
<text x="123.00" y="219.20" font-size="21.81" font-weight="bold" font-style="normal" fill="#000" stroke="#000" stroke-width="0.3" stroke-linejoin="round" >44 M Pounds</text>
<text x="91.25" y="245.20" font-size="21.96" font-weight="bold" font-style="normal" fill="#000" stroke="#000" stroke-width="0.3" stroke-linejoin="round" >Historic Production</text>
<text x="95.00" y="388.00" font-size="43.80" font-weight="bold" font-style="normal" fill="#000" stroke="#000" stroke-width="0.7" stroke-linejoin="round" >West Belt</text>
<text x="220.75" y="461.30" font-size="21.77" font-weight="bold" font-style="normal" fill="#000" stroke="#000" stroke-width="0.3" stroke-linejoin="round" >CENTRAL AREA</text>
<text x="235.00" y="487.80" font-size="21.89" font-weight="bold" font-style="normal" fill="#000" stroke="#000" stroke-width="0.3" stroke-linejoin="round" >26 M Pounds</text>
<text x="204.50" y="514.50" font-size="21.88" font-weight="bold" font-style="normal" fill="#000" stroke="#000" stroke-width="0.3" stroke-linejoin="round" >Historic Production</text>
<text x="450.50" y="643.75" font-size="21.97" font-weight="bold" font-style="italic" fill="#000" stroke="#000" stroke-width="0.3" stroke-linejoin="round" >ERODED AREA</text>
<text x="461.25" y="669.50" font-size="21.96" font-weight="bold" font-style="italic" fill="#000" stroke="#000" stroke-width="0.3" stroke-linejoin="round" >Likely hosted</text>
<text x="461.63" y="696.25" font-size="21.83" font-weight="bold" font-style="italic" fill="#000" stroke="#000" stroke-width="0.3" stroke-linejoin="round" >20 M Pounds</text>
<text x="394.50" y="763.75" font-size="20.27" font-weight="bold" font-style="italic" fill="#000" stroke="#000" stroke-width="0.3" stroke-linejoin="round" >N</text>
<text x="348.75" y="816.00" font-size="21.61" font-weight="bold" font-style="italic" fill="#000" stroke="#000" stroke-width="0.3" stroke-linejoin="round" >Two Miles</text>
<text x="646.25" y="784.30" font-size="21.86" font-weight="bold" font-style="normal" fill="#000" stroke="#000" stroke-width="0.3" stroke-linejoin="round" >SOUTH AREA</text>
<text x="653.75" y="810.50" font-size="21.74" font-weight="bold" font-style="normal" fill="#000" stroke="#000" stroke-width="0.3" stroke-linejoin="round" >8 M Pounds</text>
<text x="616.25" y="838.00" font-size="21.96" font-weight="bold" font-style="normal" fill="#000" stroke="#000" stroke-width="0.3" stroke-linejoin="round" >Historic Production</text>
<text x="630.00" y="568.00" font-size="22.09" font-weight="bold" font-style="italic" fill="#000" stroke="#000" stroke-width="0.3" stroke-linejoin="round" >ERODED</text>
<text x="643.48" y="595.00" font-size="21.54" font-weight="bold" font-style="italic" fill="#000" stroke="#000" stroke-width="0.3" stroke-linejoin="round" >AREA</text>
<rect x="630" y="571" width="94.5" height="2" fill="#000"/>
<rect x="643" y="598" width="61.5" height="2" fill="#000"/>
<text x="433.75" y="48.00" font-size="13.81" font-weight="bold" font-style="normal" fill="#000" >Lisbon</text>
<text x="281.00" y="80.50" font-size="14.06" font-weight="bold" font-style="normal" fill="#000" >North Alice</text>
<text x="316.00" y="124.00" font-size="14.03" font-weight="bold" font-style="normal" fill="#000" >Far West</text>
<text x="343.75" y="159.40" font-size="14.00" font-weight="bold" font-style="normal" fill="#000" letter-spacing="-0.44" >Hecl</text>
<text x="412.00" y="169.40" font-size="13.61" font-weight="bold" font-style="normal" fill="#000" >Cord</text>
<text x="435.60" y="205.60" font-size="13.90" font-weight="bold" font-style="normal" fill="#000" >Columbia</text>
<text x="370.60" y="219.40" font-size="13.72" font-weight="bold" font-style="normal" fill="#000" >La Sal</text>
<text x="461.90" y="227.50" font-size="13.96" font-weight="bold" font-style="normal" fill="#000" >Small Fry</text>
<text x="360.00" y="246.50" font-size="13.93" font-weight="bold" font-style="normal" fill="#000" >San Juan</text>
<text x="454.00" y="261.25" font-size="14.05" font-weight="bold" font-style="normal" fill="#000" >La Sal No 2</text>
<text x="374.40" y="292.50" font-size="13.96" font-weight="bold" font-style="normal" fill="#000" >Ike-Nixon</text>
<text x="445.50" y="341.00" font-size="13.77" font-weight="bold" font-style="normal" fill="#000" >Reprise</text>
<text x="525.50" y="345.00" font-size="13.95" font-weight="bold" font-style="normal" fill="#000" >School</text>
<text x="517.50" y="362.75" font-size="14.06" font-weight="bold" font-style="normal" fill="#000" >Section 2</text>
<text x="397.50" y="380.00" font-size="14.38" font-weight="bold" font-style="normal" fill="#000" >Texwood</text>
<text x="521.75" y="390.00" font-size="14.08" font-weight="bold" font-style="normal" fill="#000" >Big Buck 4A, 5, 6</text>
<text x="435.50" y="407.75" font-size="13.77" font-weight="bold" font-style="normal" fill="#000" >Bacardi</text>
<text x="532.50" y="409.00" font-size="13.90" font-weight="bold" font-style="normal" fill="#000" >Mi Vida</text>
<text x="451.25" y="428.75" font-size="13.96" font-weight="bold" font-style="normal" fill="#000" >Standard</text>
<text x="547.50" y="431.25" font-size="13.96" font-weight="bold" font-style="normal" fill="#000" >Big Buck 10A</text>
<text x="468.75" y="447.50" font-size="13.60" font-weight="bold" font-style="normal" fill="#000" >Little</text>
<text x="562.00" y="457.50" font-size="13.89" font-weight="bold" font-style="normal" fill="#000" >Louise</text>
<text x="462.00" y="464.50" font-size="13.79" font-weight="bold" font-style="normal" fill="#000" >Beaver</text>
<text x="475.75" y="481.25" font-size="14.19" font-weight="bold" font-style="normal" fill="#000" >Big Buck 11A-12</text>
<text x="812.50" y="681.50" font-size="14.03" font-weight="bold" font-style="normal" fill="#000" >Serviceberry</text>
<text x="916.25" y="715.50" font-size="13.75" font-weight="bold" font-style="normal" fill="#000" >Divide</text>
<text x="854.50" y="749.00" font-size="14.19" font-weight="bold" font-style="normal" fill="#000" >Velvet</text>
<text x="936.25" y="753.50" font-size="14.26" font-weight="bold" font-style="normal" fill="#000" >New Velvet</text>
<text x="1073.75" y="817.50" font-size="14.09" font-weight="bold" font-style="normal" fill="#000" >Continental</text>
<text x="599.40" y="143.00" font-size="13.19" font-weight="bold" font-style="normal" fill="#1a1a1a" >61 Claims</text>
<text x="727.50" y="272.50" font-size="13.38" font-weight="bold" font-style="normal" fill="#1a1a1a" >86 Claims</text>
<text x="853.75" y="461.25" font-size="13.40" font-weight="bold" font-style="normal" fill="#1a1a1a" >145 Claims</text>
</svg>
</body></html>
